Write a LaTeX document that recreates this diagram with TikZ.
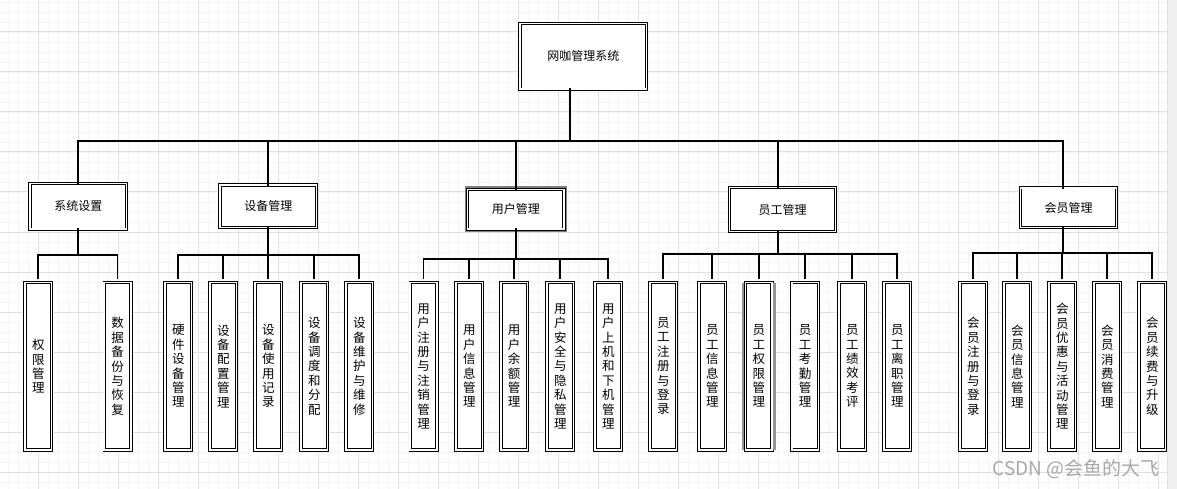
\documentclass[tikz,border=0pt]{standalone}
\usepackage{fontspec}
\newfontfamily\cjk{Noto Sans CJK SC}
\definecolor{gridmaj}{HTML}{E2E2E2}
\definecolor{gridmin}{HTML}{F5F5F5}
\definecolor{sidebar}{HTML}{F0F0F0}
\definecolor{wm}{HTML}{A8A8A8}
\tikzset{
  box/.style={draw=black, line width=0.9pt, double=white, double distance=1.6pt,
    fill=white, inner sep=0pt, outer sep=0pt, align=center,
    font=\cjk\fontsize{12}{14}\selectfont},
  leafbox/.style={box, minimum width=26.6pt, minimum height=167.3pt,
    font=\cjk\fontsize{12.5}{14.4}\selectfont},
  conn/.style={draw=black, line width=1.9pt, line join=miter, line cap=rect},
  stub/.style={conn, shorten >=5pt},
}
\begin{document}
\begin{tikzpicture}[x=1pt,y=-1pt]
\useasboundingbox (0,0) rectangle (1177,489);
% background grid
\fill[white] (0,0) rectangle (1177,489);
\foreach \x in {8,18,...,1158} \draw[gridmin, line width=0.8pt] (\x,0) -- (\x,489);
\foreach \y in {2,12,...,482} \draw[gridmin, line width=0.8pt] (0,\y) -- (1167,\y);
\foreach \x in {38,78,...,1158} \draw[gridmaj, line width=1pt] (\x,0) -- (\x,489);
\foreach \y in {32,72,...,472} \draw[gridmaj, line width=1pt] (0,\y) -- (1167,\y);
\fill[sidebar] (1167.5,0) rectangle (1177,489);
\draw[gridmaj, line width=1pt] (1167.5,0) -- (1167.5,489);

% root
\node[box, minimum width=126.6pt, minimum height=65.9pt] (root) at (583.3,56.3) {网咖管理系统};

% level 1
\node[box, minimum width=96.6pt, minimum height=45.9pt] (sys) at (78.3,206.3) {系统设置};
\node[box, minimum width=96.6pt, minimum height=42.6pt] (dev) at (268.3,206.3) {设备管理};
\node[box, minimum width=96.3pt, minimum height=39.9pt] (usr) at (515.8,209.3) {用户管理};
\node[box, minimum width=106.2pt, minimum height=43.6pt] (emp) at (782.5,209.5) {员工管理};
\node[box, minimum width=96.2pt, minimum height=39.9pt] (mem) at (1068.5,207.7) {会员管理};
\draw[gray, line width=1.6pt] ([shift={(-2.2pt,2.2pt)}]usr.north west) rectangle ([shift={(2.2pt,-2.2pt)}]usr.south east);
\draw[black, line width=0.6pt] ([shift={(-1.2pt,1.2pt)}]usr.north west) rectangle ([shift={(1.2pt,-1.2pt)}]usr.south east);

% leaves
\foreach \n/\x/\t in {
  s1/38.3/{权\\限\\管\\理},
  s2/117.5/{数\\据\\备\\份\\与\\恢\\复},
  d1/178.3/{硬\\件\\设\\备\\管\\理},
  d2/223.3/{设\\备\\配\\置\\管\\理},
  d3/268.3/{设\\备\\使\\用\\记\\录},
  d4/314.3/{设\\备\\调\\度\\和\\分\\配},
  d5/359.3/{设\\备\\维\\护\\与\\维\\修},
  u1/423.5/{用\\户\\注\\册\\与\\注\\销\\管\\理},
  u2/469.3/{用\\户\\信\\息\\管\\理},
  u3/514.2/{用\\户\\余\\额\\管\\理},
  u4/560.3/{用\\户\\安\\全\\与\\隐\\私\\管\\理},
  u5/608.3/{用\\户\\上\\机\\和\\下\\机\\管\\理},
  e1/663.3/{员\\工\\注\\册\\与\\登\\录},
  e2/712.3/{员\\工\\信\\息\\管\\理},
  e3/758.8/{员\\工\\权\\限\\管\\理},
  e4/805.0/{员\\工\\考\\勤\\管\\理},
  e5/852.3/{员\\工\\绩\\效\\考\\评},
  e6/897.3/{员\\工\\离\\职\\管\\理},
  m1/973.3/{会\\员\\注\\册\\与\\登\\录},
  m2/1017.3/{会\\员\\信\\息\\管\\理},
  m3/1062.3/{会\\员\\优\\惠\\与\\活\\动\\管\\理},
  m4/1107.3/{会\\员\\消\\费\\管\\理},
  m5/1152.3/{会\\员\\续\\费\\与\\升\\级}}
  \node[leafbox] (\n) at (\x,366.3) {\t};
\draw[gray!85, line width=2.6pt] ([xshift=-2.4pt]e3.north west) -- ([xshift=-2.4pt]e3.south west);
\draw[gray!85, line width=2.6pt] ([xshift=2.4pt]e3.north east) -- ([xshift=2.4pt]e3.south east);

% top-level connectors
\coordinate (bus) at (570,141);
\draw[conn] ([xshift=-13.3pt]root.south) -- (bus);
\draw[conn] (bus) -| (sys.north);
\draw[conn] (bus) -| (dev.north);
\draw[conn] (bus) -| (usr.north);
\draw[conn] (bus) -| ([xshift=-4.2pt]emp.north);
\draw[conn] (bus) -| ([xshift=-5.2pt]mem.north);

% second-level connectors
\coordinate (sbus) at (0,255);
\coordinate (dbus) at (0,255);
\coordinate (ubus) at (0,259);
\coordinate (ebus) at (0,254);
\coordinate (mbus) at (0,253);
\foreach \c in {s1,s2}
  \draw[stub] ([xshift=-0.6pt]sys.south) -- ([xshift=-0.6pt]sys.south |- sbus) -| (\c.north);
\foreach \c in {d1,d2,d3,d4,d5}
  \draw[stub] ([xshift=-0.6pt]dev.south) -- ([xshift=-0.6pt]dev.south |- dbus) -| (\c.north);
\foreach \c in {u1,u2,u3,u4,u5}
  \draw[stub] (usr.south) -- (usr.south |- ubus) -| (\c.north);
\foreach \c in {e1,e2,e3,e4,e5,e6}
  \draw[stub] ([xshift=-4.2pt]emp.south) -- ([xshift=-4.2pt]emp.south |- ebus) -| (\c.north);
\foreach \c in {m1,m2,m3,m4,m5}
  \draw[stub] ([xshift=-5.2pt]mem.south) -- ([xshift=-5.2pt]mem.south |- mbus) -| (\c.north);

% watermark
\node[text=wm, font=\cjk\fontsize{19}{19}\selectfont, anchor=east, inner sep=0pt] (wmk) at (1160,469) {CSDN @会鱼的大飞};
\end{tikzpicture}
\end{document}
